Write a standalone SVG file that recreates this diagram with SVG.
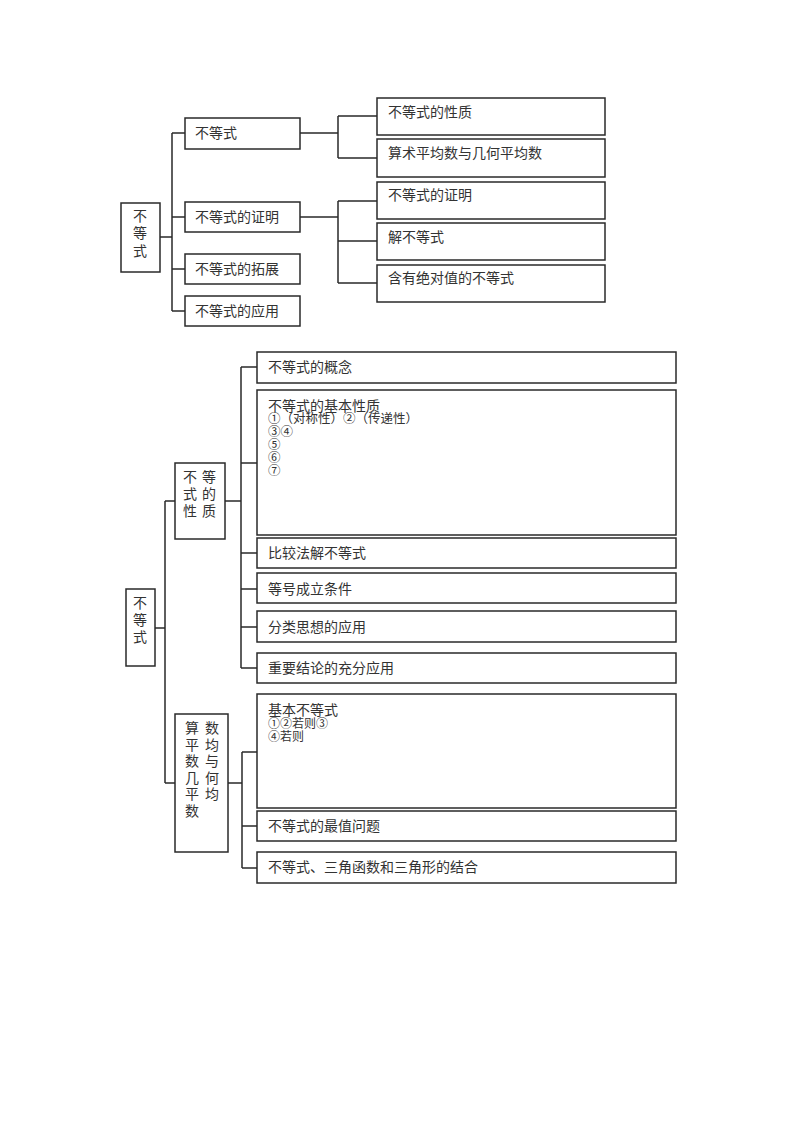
<svg xmlns="http://www.w3.org/2000/svg" width="800" height="1132" viewBox="0 0 800 1132">
<style>
.box{fill:#fff;stroke:#2a2a2a;stroke-width:1.5}
.ln{fill:none;stroke:#2a2a2a;stroke-width:1.5}
text{font-family:"Noto Sans CJK SC","Noto Sans",sans-serif;font-size:14px;fill:#333}
.c{text-anchor:middle}
.s{font-size:12.5px}
.s2{font-size:12px}
</style>
<rect width="800" height="1132" fill="#fff"/>
<g id="connectors">
<path class="ln" d="M160,237H172M172,133V311M172,133H185M172,217H185M172,269H185M172,311H185"/>
<path class="ln" d="M300,133H338M338,116V158M338,116H377M338,158H377"/>
<path class="ln" d="M300,217H338M338,201V283M338,201H377M338,241H377M338,283H377"/>
<path class="ln" d="M155,628H165M165,501V783M165,501H175M165,783H175"/>
<path class="ln" d="M225,501H241M241,367V668M241,367H257M241,463H257M241,553H257M241,589H257M241,627H257M241,668H257"/>
<path class="ln" d="M228,783H242M242,752V868M242,752H257M242,826H257M242,868H257"/>
</g>
<g id="top-root"><rect class="box" x="121" y="203" width="39" height="69"/><text class="c" x="140" y="221">不</text><text class="c" x="140" y="238">等</text><text class="c" x="140" y="256">式</text></g>
<g id="t1"><rect class="box" x="185" y="118" width="115" height="31"/><text x="195" y="138">不等式</text></g>
<g id="t2"><rect class="box" x="185" y="202" width="115" height="30"/><text x="195" y="222">不等式的证明</text></g>
<g id="t3"><rect class="box" x="185" y="254" width="115" height="30"/><text x="195" y="274">不等式的拓展</text></g>
<g id="t4"><rect class="box" x="185" y="296" width="115" height="30"/><text x="195" y="316">不等式的应用</text></g>
<g id="t1a"><rect class="box" x="377" y="98" width="228" height="37"/><text x="388" y="117">不等式的性质</text></g>
<g id="t1b"><rect class="box" x="377" y="139" width="228" height="38"/><text x="388" y="158">算术平均数与几何平均数</text></g>
<g id="t2a"><rect class="box" x="377" y="182" width="228" height="37"/><text x="388" y="200">不等式的证明</text></g>
<g id="t2b"><rect class="box" x="377" y="223" width="228" height="37"/><text x="388" y="242">解不等式</text></g>
<g id="t2c"><rect class="box" x="377" y="265" width="228" height="37"/><text x="388" y="283">含有绝对值的不等式</text></g>
<g id="bottom-root"><rect class="box" x="126" y="589" width="29" height="77"/><text class="c" x="140" y="608">不</text><text class="c" x="140" y="625">等</text><text class="c" x="140" y="642">式</text></g>
<g id="b1"><rect class="box" x="175" y="463" width="50" height="76"/>
<text class="c" x="190" y="482">不</text><text class="c" x="209" y="482">等</text>
<text class="c" x="190" y="499">式</text><text class="c" x="209" y="499">的</text>
<text class="c" x="190" y="516">性</text><text class="c" x="209" y="516">质</text></g>
<g id="b2"><rect class="box" x="175" y="714" width="53" height="138"/>
<text class="c" x="192" y="733">算</text><text class="c" x="212" y="733">数</text>
<text class="c" x="192" y="749.5">平</text><text class="c" x="212" y="749.5">均</text>
<text class="c" x="192" y="766">数</text><text class="c" x="212" y="766">与</text>
<text class="c" x="192" y="782.5">几</text><text class="c" x="212" y="782.5">何</text>
<text class="c" x="192" y="799">平</text><text class="c" x="212" y="799">均</text>
<text class="c" x="192" y="815.5">数</text></g>
<g id="b1a"><rect class="box" x="257" y="352" width="419" height="31"/><text x="268" y="372">不等式的概念</text></g>
<g id="b1b"><rect class="box" x="257" y="390" width="419" height="145"/><text x="268" y="411">不等式的基本性质</text>
<text class="s" x="268" y="423">①（对称性）②（传递性）</text>
<text class="s" x="268" y="436">③④</text>
<text class="s" x="268" y="449">⑤</text>
<text class="s" x="268" y="462">⑥</text>
<text class="s" x="268" y="475">⑦</text></g>
<g id="b1c"><rect class="box" x="257" y="538" width="419" height="30"/><text x="268" y="558">比较法解不等式</text></g>
<g id="b1d"><rect class="box" x="257" y="573" width="419" height="30"/><text x="268" y="594">等号成立条件</text></g>
<g id="b1e"><rect class="box" x="257" y="611" width="419" height="31"/><text x="268" y="632">分类思想的应用</text></g>
<g id="b1f"><rect class="box" x="257" y="653" width="419" height="30"/><text x="268" y="673">重要结论的充分应用</text></g>
<g id="b2a"><rect class="box" x="257" y="694" width="419" height="114"/><text x="268" y="715">基本不等式</text>
<text class="s2" x="268" y="728">①②若则③</text>
<text class="s2" x="268" y="741">④若则</text></g>
<g id="b2b"><rect class="box" x="257" y="811" width="419" height="30"/><text x="268" y="831">不等式的最值问题</text></g>
<g id="b2c"><rect class="box" x="257" y="852" width="419" height="31"/><text x="268" y="872">不等式、三角函数和三角形的结合</text></g>
</svg>
